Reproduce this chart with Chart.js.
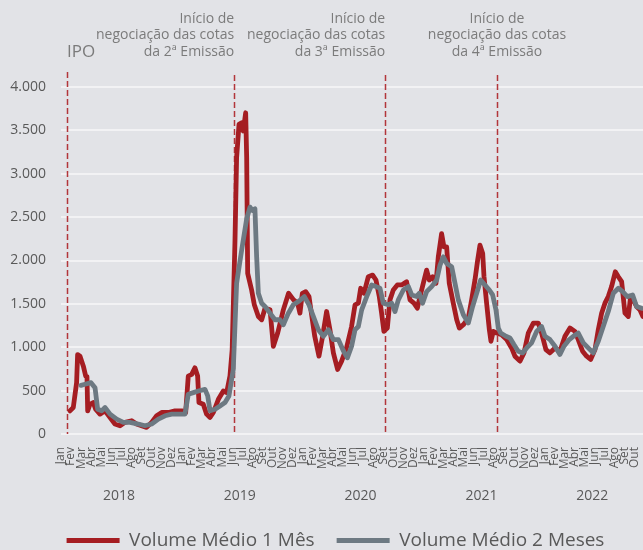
<!DOCTYPE html>
<html>
<head>
<meta charset="utf-8">
<script src="https://cdn.jsdelivr.net/npm/chart.js@4.4.0/dist/chart.umd.min.js"></script>
<style>
  html, body { margin: 0; padding: 0; background: #e2e3e7; }
  #wrap { width: 643px; height: 550px; }
</style>
</head>
<body>
<div id="wrap"><canvas id="chart"></canvas></div>
<script>
// months since Jan 2018 -> volume
const monthNames = ["Jan", "Fev", "Mar", "Abr", "Mai", "Jun", "Jul", "Ago", "Set", "Out", "Nov", "Dez"];
const years = ["2018", "2019", "2020", "2021", "2022"];
const monthsPerYear = [12, 12, 12, 12, 10];

const t1 = [0.89, 1.22, 1.55, 1.65, 1.89, 2.22, 2.45, 2.58, 2.65, 2.88, 3.2, 3.44, 3.87, 4.37, 4.87, 5.36, 5.86, 6.36, 7.02, 7.5,
  8.0, 8.5, 9.0, 9.5, 10.0, 10.66, 11.32, 11.98, 12.38, 12.64, 12.98, 13.3, 13.57, 13.7, 14.13, 14.46, 14.8, 15.13, 15.63, 16.12,
  16.45, 16.78, 17.0, 17.28, 17.44, 17.68, 17.94, 18.1, 18.34, 18.44, 18.54, 18.93, 19.2, 19.6, 19.93, 20.26, 20.76, 21.09, 21.52, 22.08,
  22.6, 23.1, 23.5, 23.73, 23.97, 24.3, 24.63, 24.96, 25.2, 25.62, 25.98, 26.38, 26.71, 27.05, 27.47, 27.87, 28.37, 28.86, 29.2, 29.53,
  29.76, 30.09, 30.52, 30.95, 31.28, 31.61, 31.84, 32.07, 32.41, 32.67, 33.0, 33.4, 33.83, 34.32, 34.66, 35.05, 35.39, 35.65, 35.98, 36.31,
  36.58, 36.91, 37.24, 37.47, 37.8, 38.03, 38.3, 38.56, 38.96, 39.3, 39.56, 39.96, 40.45, 40.78, 41.11, 41.38, 41.61, 41.88, 42.01, 42.27,
  42.54, 42.7, 42.93, 43.26, 43.76, 44.26, 44.75, 45.08, 45.58, 45.98, 46.41, 46.91, 47.4, 47.73, 48.16, 48.56, 49.06, 49.55, 50.05, 50.55,
  51.04, 51.37, 51.8, 52.2, 52.6, 53.03, 53.36, 53.69, 54.02, 54.35, 54.68, 55.05, 55.35, 55.68, 56.01, 56.34, 56.57, 56.83, 57.16, 57.49, 57.79];
const volume1 = [267, 305, 592, 916, 897, 782, 668, 660, 267, 343, 363, 286, 229, 267, 191, 115, 95, 134, 153, 115,
  95, 76, 134, 210, 248, 248, 267, 267, 248, 668, 687, 763, 668, 363, 343, 229, 191, 248, 400, 496,
  477, 668, 973, 2233, 3187, 3569, 3588, 3493, 3703, 3187, 1851, 1660, 1489, 1355, 1317, 1450, 1431, 1011, 1164, 1431,
  1622, 1546, 1508, 1393, 1622, 1641, 1584, 1317, 1126, 897, 1126, 1412, 1202, 935, 744, 840, 1000, 1240, 1489, 1508,
  1680, 1622, 1813, 1832, 1775, 1584, 1393, 1183, 1221, 1546, 1660, 1718, 1718, 1756, 1546, 1508, 1450, 1584, 1737, 1889,
  1775, 1813, 1737, 2042, 2309, 2157, 2157, 1737, 1508, 1317, 1221, 1260, 1336, 1546, 1775, 2004, 2176, 2080, 1813, 1508,
  1202, 1069, 1183, 1164, 1145, 1088, 992, 897, 840, 935, 1164, 1279, 1279, 1164, 973, 935, 992, 954, 1126, 1221,
  1183, 1088, 954, 897, 859, 973, 1202, 1393, 1508, 1584, 1699, 1870, 1813, 1756, 1393, 1355, 1584, 1546, 1470, 1431, 1355];

const t2 = [1.99, 2.38, 2.98, 3.38, 3.64, 4.04, 4.37, 4.87, 5.53, 6.19, 6.85, 7.68, 8.34, 9.0, 9.67, 10.33, 10.99, 11.65, 12.31, 12.64,
  13.14, 13.64, 14.3, 14.57, 14.8, 15.3, 15.79, 16.29, 16.68, 17.11, 17.44, 17.94, 18.44, 18.77, 19.0, 19.26, 19.43, 19.6, 19.93, 20.26,
  20.76, 21.25, 21.75, 22.08, 22.58, 23.07, 23.57, 24.17, 24.63, 25.06, 25.56, 26.06, 26.56, 27.05, 27.55, 28.04, 28.44, 28.86, 29.2, 29.53,
  29.86, 30.36, 30.85, 31.28, 31.68, 32.01, 32.5, 32.84, 33.17, 33.5, 34.0, 34.5, 34.83, 35.32, 35.58, 35.91, 36.31, 36.81, 37.31, 37.64,
  37.97, 38.3, 38.8, 39.13, 39.46, 39.96, 40.45, 40.88, 41.28, 41.68, 42.11, 42.54, 42.87, 43.2, 43.43, 43.66, 44.19, 44.59, 44.98, 45.41,
  45.85, 46.25, 46.74, 47.24, 47.73, 48.06, 48.56, 49.06, 49.55, 49.95, 50.48, 50.88, 51.37, 51.87, 52.36, 52.86, 53.36, 53.85, 54.35, 54.85,
  55.35, 55.78, 56.24, 56.77, 57.16, 57.66];
const volume2 = [561, 573, 592, 534, 286, 267, 305, 229, 172, 134, 134, 115, 95, 115, 172, 210, 229, 229, 229, 458,
  477, 496, 515, 439, 267, 286, 324, 363, 439, 744, 1737, 2118, 2481, 2615, 2577, 2596, 2042, 1622, 1508, 1470,
  1393, 1317, 1317, 1260, 1393, 1489, 1527, 1584, 1489, 1355, 1202, 1126, 1202, 1088, 1088, 960, 878, 1011, 1202, 1240,
  1431, 1584, 1718, 1699, 1680, 1508, 1489, 1508, 1412, 1546, 1660, 1699, 1603, 1584, 1622, 1508, 1641, 1699, 1775, 1947,
  2042, 1966, 1928, 1737, 1546, 1374, 1279, 1470, 1622, 1775, 1718, 1660, 1603, 1431, 1221, 1164, 1126, 1107, 1031, 954,
  935, 992, 1050, 1183, 1240, 1126, 1088, 1011, 916, 1011, 1088, 1126, 1164, 1050, 992, 935, 1069, 1240, 1412, 1622,
  1680, 1641, 1584, 1603, 1470, 1450];

// events (months since Jan 2018) and their notes
const eventPos = [0.6, 17.2, 32.2, 43.3];
const eventText = [
  ["IPO"],
  ["Início de", "negociação das cotas", "da 2ª Emissão"],
  ["Início de", "negociação das cotas", "da 3ª Emissão"],
  ["Início de", "negociação das cotas", "da 4ª Emissão"]
];
const eventAlign = ["left", "right", "right", "center"];

const yTicks = [0, 500, 1000, 1500, 2000, 2500, 3000, 3500, 4000];

const FONT = "'Open Sans', 'Noto Sans', sans-serif";
const RED = "#a51d22";
const GRAY = "#6d7982";
const TEXT = "#595959";

function pts(xs, ys) {
  return xs.map(function (x, i) { return { x: x, y: ys[i] }; });
}

const totalMonths = monthsPerYear.reduce(function (a, b) { return a + b; }, 0);
const yearCenters = [];
let acc = 0;
monthsPerYear.forEach(function (n) {
  yearCenters.push(acc + (n - 1) / 2 + 0.25);
  acc += n;
});

const eventsPlugin = {
  id: "events",
  afterLayout: function (chart) {
    // legend sits a little right of centre in the original
    chart.legend.left += 14;
    chart.legend.right += 14;
  },
  beforeDatasetsDraw: function (chart) {
    const ctx = chart.ctx;
    const x = chart.scales.x;
    const area = chart.chartArea;
    ctx.save();
    ctx.strokeStyle = "#b2363b";
    ctx.lineWidth = 1.5;
    ctx.setLineDash([6, 3]);
    eventPos.forEach(function (p, i) {
      const px = Math.round(x.getPixelForValue(p)) + 0.5;
      ctx.beginPath();
      ctx.moveTo(px, area.top - (i === 0 ? 15 : 12));
      ctx.lineTo(px, area.bottom);
      ctx.stroke();
    });
    ctx.restore();
  },
  afterDraw: function (chart) {
    const ctx = chart.ctx;
    const x = chart.scales.x;
    const area = chart.chartArea;
    ctx.save();
    ctx.fillStyle = "#7b7b7b";
    ctx.textBaseline = "middle";
    eventPos.forEach(function (p, i) {
      const px = x.getPixelForValue(p);
      const lines = eventText[i];
      ctx.textAlign = eventAlign[i];
      ctx.font = (i === 0 ? "17px " : "14px ") + FONT;
      lines.forEach(function (s, j) {
        const y = area.top - 35 - (lines.length - 1 - j) * 16.5;
        ctx.fillText(s, px, y);
      });
    });
    ctx.restore();
  }
};

function noSidePadding(scale) {
  scale.paddingLeft = 0;
  scale.paddingRight = 0;
}

const ctx = document.getElementById("chart").getContext("2d");
const chart = new Chart(ctx, {
  type: "line",
  data: {
    datasets: [
      {
        label: "Volume Médio 1 Mês",
        data: pts(t1, volume1),
        borderColor: RED,
        backgroundColor: RED,
        borderWidth: 4.8,
        pointRadius: 0,
        tension: 0,
        borderJoinStyle: "round",
        borderCapStyle: "round",
        order: 1
      },
      {
        label: "Volume Médio 2 Meses",
        data: pts(t2, volume2),
        borderColor: GRAY,
        backgroundColor: GRAY,
        borderWidth: 4.8,
        pointRadius: 0,
        tension: 0,
        borderJoinStyle: "round",
        borderCapStyle: "round",
        order: 0
      }
    ]
  },
  options: {
    responsive: true,
    maintainAspectRatio: false,
    animation: false,
    layout: { padding: { top: 87, left: 0, right: 0, bottom: 0 } },
    plugins: {
      tooltip: { enabled: false },
      legend: {
        position: "bottom",
        maxHeight: 41,
        labels: {
          usePointStyle: true,
          pointStyle: "line",
          pointStyleWidth: 53,
          boxHeight: 19,
          padding: 22,
          color: TEXT,
          font: { family: FONT, size: 19 },
          sort: function (a, b) { return a.datasetIndex - b.datasetIndex; }
        }
      }
    },
    scales: {
      x: {
        type: "linear",
        position: "bottom",
        weight: 0,
        min: 0,
        max: 57.8,
        grid: { display: false },
        border: { display: false },
        afterBuildTicks: function (scale) {
          const ticks = [];
          for (let i = 0; i < totalMonths; i++) ticks.push({ value: i });
          scale.ticks = ticks;
        },
        afterFit: function (scale) { scale.height = 44; noSidePadding(scale); },
        ticks: {
          autoSkip: false,
          minRotation: 90,
          maxRotation: 90,
          padding: 5,
          color: TEXT,
          font: { family: FONT, size: 12 },
          callback: function (v) { return monthNames[Math.round(v) % 12]; }
        }
      },
      year: {
        type: "linear",
        position: "bottom",
        weight: 1,
        min: 0,
        max: 57.8,
        grid: { display: false, drawTicks: false },
        border: { display: false },
        afterBuildTicks: function (scale) {
          scale.ticks = yearCenters.map(function (c) { return { value: c }; });
        },
        afterFit: function (scale) { scale.height = 31; noSidePadding(scale); },
        ticks: {
          autoSkip: false,
          maxRotation: 0,
          padding: 10,
          color: TEXT,
          font: { family: FONT, size: 14 },
          callback: function (v, i) { return years[i]; }
        }
      },
      y: {
        min: 0,
        max: 4000,
        grid: { color: "#f2f2f4", lineWidth: 2, drawTicks: false },
        border: { display: false },
        afterBuildTicks: function (scale) {
          scale.ticks = yTicks.map(function (v) { return { value: v }; });
        },
        afterFit: function (scale) { scale.width = 61; },
        ticks: {
          padding: 15,
          color: TEXT,
          font: { family: FONT, size: 14 },
          callback: function (v) { return String(v).replace(/\B(?=(\d{3})+(?!\d))/g, "."); }
        }
      }
    }
  },
  plugins: [eventsPlugin]
});
</script>
</body>
</html>
